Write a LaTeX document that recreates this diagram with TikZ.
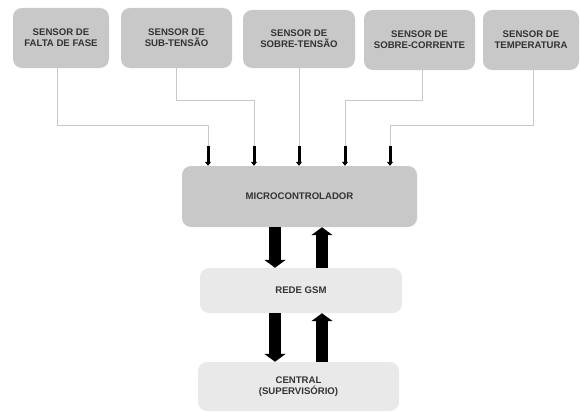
\documentclass[tikz,border=0pt]{standalone}
\usepackage{fontspec}
\setmainfont{Liberation Sans}
\usetikzlibrary{arrows.meta}
\definecolor{boxgray}{HTML}{C8C8C8}
\definecolor{boxlight}{HTML}{E9E9E9}
\definecolor{wiregray}{HTML}{C8C8C8}
\definecolor{textgray}{HTML}{333333}
\tikzset{
  sensor/.style={fill=boxgray,rounded corners=9pt,align=center,text=textgray,
    font=\fontsize{9.6}{11}\selectfont\bfseries,inner sep=0pt},
  block/.style={sensor,fill=boxlight},
  wire/.style={draw=wiregray,line width=1pt},
  pin/.style={line width=3pt,-{Triangle[width=6pt,length=4pt]}},
  bigarrow/.style={line width=12pt,-{Triangle[width=21pt,length=8pt]}}
}
\begin{document}
\begin{tikzpicture}[x=1pt,y=-1pt]
  \useasboundingbox (0,0) rectangle (580,412);
  \node (S1) [sensor,minimum width=96pt,minimum height=60pt] at (61,38) {SENSOR DE\\FALTA DE FASE};
  \node (S2) [sensor,minimum width=111pt,minimum height=60pt] at (176.5,38) {SENSOR DE\\SUB-TENS\~AO};
  \node (S3) [sensor,minimum width=112pt,minimum height=58pt] at (299,39) {SENSOR DE\\SOBRE-TENS\~AO};
  \node (S4) [sensor,minimum width=111pt,minimum height=60pt] at (419.5,40) {SENSOR DE\\SOBRE-CORRENTE};
  \node (S5) [sensor,minimum width=96pt,minimum height=60pt] at (531,40) {SENSOR DE\\TEMPERATURA};
  \node (MC) [sensor,minimum width=235pt,minimum height=61pt] at (299.5,196.5) {MICROCONTROLADOR};
  \node (GSM) [block,minimum width=202pt,minimum height=45pt] at (301,290.5) {REDE GSM};
  \node (CEN) [block,minimum width=201pt,minimum height=49pt] at (298.5,386.5) {CENTRAL\\(SUPERVIS\'ORIO)};
  % wires from the sensors
  \coordinate (P1) at (208,146);
  \coordinate (P2) at (254,146);
  \coordinate (P3) at (299,146);
  \coordinate (P4) at (345,146);
  \coordinate (P5) at (390,146);
  \draw [wire] (S1.south -| 57,0) -- (57,125) -| (P1);
  \draw [wire] (S2.south) -- (S2.south |- 0,100) -| (P2);
  \draw [wire] (S3.south) -- (P3);
  \draw [wire] (S4.south -| 422,0) -- (422,100) -| (P4);
  \draw [wire] (S5.south -| 533,0) -- (533,125) -| (P5);
  \foreach \p in {P1,P2,P3,P4,P5}
    \draw [pin] (\p) -- (\p |- MC.north);
  % data flow
  \draw [bigarrow] (275,0 |- MC.south) -- (275,0 |- GSM.north);
  \draw [bigarrow] (322,0 |- GSM.north) -- (322,0 |- MC.south);
  \draw [bigarrow] (275,0 |- GSM.south) -- (275,0 |- CEN.north);
  \draw [bigarrow] (322,0 |- CEN.north) -- (322,0 |- GSM.south);
\end{tikzpicture}
\end{document}
